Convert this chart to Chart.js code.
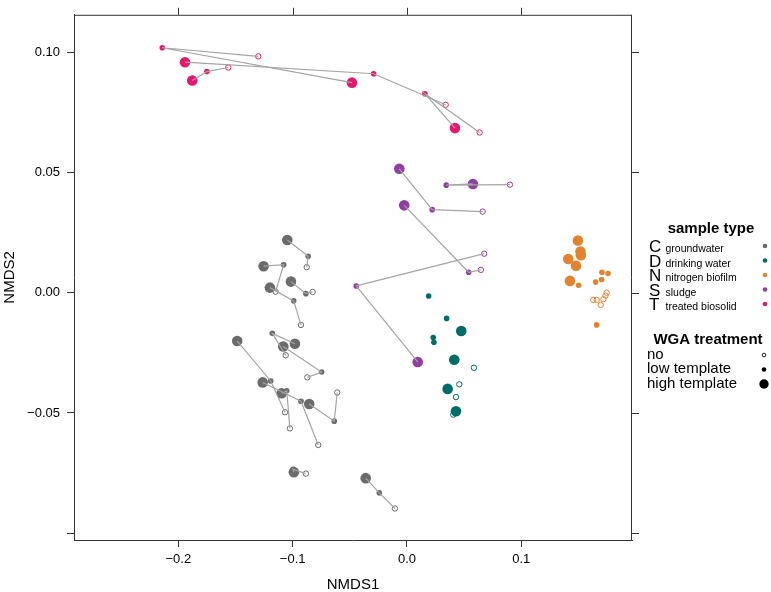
<!DOCTYPE html>
<html>
<head>
<meta charset="utf-8">
<script src="https://cdn.jsdelivr.net/npm/chart.js@4.4.1/dist/chart.umd.min.js"></script>
<style>
    html, body { margin: 0; padding: 0; background: #fff; }
</style>
</head>
<body>
<canvas id="nmds" width="771" height="592"></canvas>
<script>
// axis ticks
const xTicks = [-0.2, -0.1, 0.0, 0.1];
const yTicks = [-0.10, -0.05, 0.00, 0.05, 0.10];

// groundwater (C): index i in each array is the same sample
const groundwaterNo = [[-0.0877, 0.0106], [-0.1149, 0.0004], [-0.0927, -0.0134], [-0.0825, 0.0003], [-0.1067, -0.0497], [-0.1061, -0.0260], [-0.0872, -0.0352], [-0.0610, -0.0415], [-0.0776, -0.0633], [-0.1024, -0.0564], [-0.0884, -0.0752], [-0.0105, -0.0897]];
const groundwaterLow = [[-0.0864, 0.0151], [-0.1079, 0.0116], [-0.0991, -0.0034], [-0.0884, -0.0004], [-0.1192, -0.0367], [-0.1178, -0.0169], [-0.0746, -0.0330], [-0.0636, -0.0534], [-0.0927, -0.0451], [-0.1052, -0.0408], [-0.0997, -0.0734], [-0.0242, -0.0832]];
const groundwaterHigh = [[-0.1047, 0.0219], [-0.1254, 0.0110], [-0.1199, 0.0021], [-0.1015, 0.0046], [-0.1485, -0.0201], [-0.0980, -0.0212], [-0.1082, -0.0224], [-0.0855, -0.0463], [-0.1262, -0.0373], [-0.1096, -0.0418], [-0.0989, -0.0746], [-0.0361, -0.0771]];

// drinking water (D)
const drinkingNo = [[0.0586, -0.0312], [0.0458, -0.0381], [0.0429, -0.0434], [0.0405, -0.0507]];
const drinkingLow = [[0.0190, -0.0014], [0.0347, -0.0107], [0.0230, -0.0186], [0.0236, -0.0206]];
const drinkingHigh = [[0.0475, -0.0159], [0.0414, -0.0279], [0.0356, -0.0400], [0.0429, -0.0493]];

// nitrogen biofilm (N)
const biofilmNo = [[0.1630, -0.0030], [0.1660, -0.0030], [0.1695, -0.0051], [0.1719, -0.0027], [0.1737, -0.0012], [0.1747, 0.0000]];
const biofilmLow = [[0.1706, 0.0085], [0.1759, 0.0080], [0.1651, 0.0044], [0.1703, 0.0055], [0.1502, 0.0031], [0.1660, -0.0134]];
const biofilmHigh = [[0.1496, 0.0217], [0.1518, 0.0171], [0.1522, 0.0156], [0.1411, 0.0140], [0.1479, 0.0112], [0.1426, 0.0049]];

// sludge (S)
const sludgeNo = [[0.0662, 0.0337], [0.0901, 0.0449], [0.0647, 0.0095], [0.0676, 0.0162]];
const sludgeLow = [[0.0221, 0.0345], [0.0344, 0.0447], [0.0540, 0.0085], [-0.0444, 0.0028]];
const sludgeHigh = [[-0.0067, 0.0515], [0.0577, 0.0452], [-0.0024, 0.0363], [0.0094, -0.0288]];

// treated biosolid (T)
const biosolidNo = [[-0.1301, 0.0982], [0.0339, 0.0781], [0.0636, 0.0666], [-0.1563, 0.0936]];
const biosolidLow = [[-0.2141, 0.1018], [-0.0291, 0.0910], [0.0157, 0.0827], [-0.1750, 0.0919]];
const biosolidHigh = [[-0.0481, 0.0873], [-0.1942, 0.0958], [0.0420, 0.0684], [-0.1878, 0.0882]];

const sampleTypes = [
    { code: "C", name: "groundwater", color: "#6b6b6b", no: groundwaterNo, low: groundwaterLow, high: groundwaterHigh, linked: true },
    { code: "D", name: "drinking water", color: "#006c69", no: drinkingNo, low: drinkingLow, high: drinkingHigh, linked: false },
    { code: "N", name: "nitrogen biofilm", color: "#e2832f", no: biofilmNo, low: biofilmLow, high: biofilmHigh, linked: false },
    { code: "S", name: "sludge", color: "#913ea1", no: sludgeNo, low: sludgeLow, high: sludgeHigh, linked: true },
    { code: "T", name: "treated biosolid", color: "#e2196c", no: biosolidNo, low: biosolidLow, high: biosolidHigh, linked: true },
];
const treatments = ["no", "low template", "high template"];

const FONT = "'Liberation Sans', Arial, Helvetica, sans-serif";
const pt = ([x, y]) => ({ x, y });
const minus = s => s.replace("-", "\u2212");

const datasets = [];
sampleTypes.forEach(t => {
    if (t.linked) {
        t.low.forEach((lo, i) => {
            datasets.push({
                data: [t.no[i], lo, t.high[i]].map(pt),
                showLine: true,
                pointRadius: 0,
                borderColor: "#a4a4a4",
                borderWidth: 1.2,
                order: 0,
            });
        });
    }
    datasets.push({
        data: t.no.map(pt),
        pointRadius: 2.7,
        pointBorderWidth: 1,
        pointBorderColor: t.color,
        pointBackgroundColor: "rgba(255,255,255,0)",
        order: 1,
    }, {
        data: t.low.map(pt),
        pointRadius: 2.8,
        pointBorderWidth: 0,
        pointBackgroundColor: t.color,
        order: 1,
    }, {
        data: t.high.map(pt),
        pointRadius: 5.3,
        pointBorderWidth: 0,
        pointBackgroundColor: t.color,
        order: 1,
    });
});

// frame, top/right ticks, axis titles and the legend
const decor = {
    id: "decor",
    afterDraw(chart) {
        const ctx = chart.ctx,
            a = chart.chartArea,
            sx = chart.scales.x,
            sy = chart.scales.y;
        ctx.save();
        ctx.strokeStyle = "#333";
        ctx.lineWidth = 1;
        ctx.beginPath();
        ctx.moveTo(a.left, a.top + 0.5);
        ctx.lineTo(a.right, a.top + 0.5);
        ctx.moveTo(a.right - 0.5, a.top);
        ctx.lineTo(a.right - 0.5, a.bottom);
        xTicks.forEach(v => {
            const px = Math.round(sx.getPixelForValue(v)) + 0.5;
            ctx.moveTo(px, a.top);
            ctx.lineTo(px, a.top - 7);
        });
        yTicks.forEach(v => {
            const py = Math.round(sy.getPixelForValue(v)) + 0.5;
            ctx.moveTo(a.right, py);
            ctx.lineTo(a.right + 7, py);
        });
        ctx.stroke();

        ctx.fillStyle = "#000";
        ctx.font = "15px " + FONT;
        ctx.textAlign = "center";
        ctx.textBaseline = "middle";
        ctx.fillText("NMDS1", (a.left + a.right) / 2, 585);
        ctx.save();
        ctx.translate(10, (a.top + a.bottom) / 2);
        ctx.rotate(-Math.PI / 2);
        ctx.fillText("NMDS2", 0, 0);
        ctx.restore();

        // legend: sample type
        ctx.font = "bold 15px " + FONT;
        ctx.fillText("sample type", 711, 229);
        ctx.textAlign = "left";
        ctx.textBaseline = "alphabetic";
        sampleTypes.forEach((t, i) => {
            const by = 252 + i * 14.5;
            ctx.fillStyle = "#000";
            ctx.font = "17px " + FONT;
            ctx.fillText(t.code, 649, by);
            ctx.font = "10.5px " + FONT;
            ctx.fillText(t.name, 665.5, by);
            ctx.fillStyle = t.color;
            ctx.beginPath();
            ctx.arc(765, by - 6, 2.3, 0, Math.PI * 2);
            ctx.fill();
        });

        // legend: WGA treatment
        ctx.fillStyle = "#000";
        ctx.textAlign = "center";
        ctx.textBaseline = "middle";
        ctx.font = "bold 15px " + FONT;
        ctx.fillText("WGA treatment", 708, 340);
        ctx.textAlign = "left";
        ctx.textBaseline = "alphabetic";
        ctx.font = "15px " + FONT;
        const sizes = [1.8, 2.3, 4.7];
        treatments.forEach((name, i) => {
            const by = 358.5 + i * 14.5;
            ctx.fillStyle = "#000";
            ctx.fillText(name, 647, by);
            ctx.beginPath();
            ctx.arc(764, by - 3.5, sizes[i], 0, Math.PI * 2);
            if (i === 0) {
                ctx.strokeStyle = "#000";
                ctx.lineWidth = 0.9;
                ctx.stroke();
            } else {
                ctx.fill();
            }
        });
        ctx.restore();
    }
};

new Chart(document.getElementById("nmds"), {
    type: "scatter",
    data: { datasets },
    options: {
        responsive: false,
        animation: false,
        layout: { padding: { left: 0, right: 139, top: 9, bottom: 0 } },
        plugins: {
            legend: { display: false },
            tooltip: { enabled: false },
        },
        scales: {
            x: {
                type: "linear",
                position: "bottom",
                min: -0.2913,
                max: 0.1969,
                afterBuildTicks: s => { s.ticks = xTicks.map(v => ({ value: v })); },
                afterFit: s => { s.height = 52; },
                ticks: {
                    callback: v => minus(v.toFixed(1)),
                    font: { family: FONT, size: 13 },
                    color: "#000",
                    padding: 5,
                    maxRotation: 0,
                    autoSkip: false,
                },
                grid: { display: true, drawOnChartArea: false, drawTicks: true, tickLength: 7, color: "#333" },
                border: { display: true, color: "#333" },
            },
            y: {
                type: "linear",
                position: "left",
                min: -0.1028,
                max: 0.1155,
                afterBuildTicks: s => { s.ticks = yTicks.map(v => ({ value: v })); },
                afterFit: s => { s.width = 74; },
                ticks: {
                    callback: v => (Math.abs(v + 0.1) < 1e-9 ? "" : minus(v.toFixed(2))),
                    font: { family: FONT, size: 13 },
                    color: "#000",
                    padding: 7,
                    autoSkip: false,
                },
                grid: { display: true, drawOnChartArea: false, drawTicks: true, tickLength: 7, color: "#333" },
                border: { display: true, color: "#333" },
            },
        },
    },
    plugins: [decor],
});
</script>
</body>
</html>
